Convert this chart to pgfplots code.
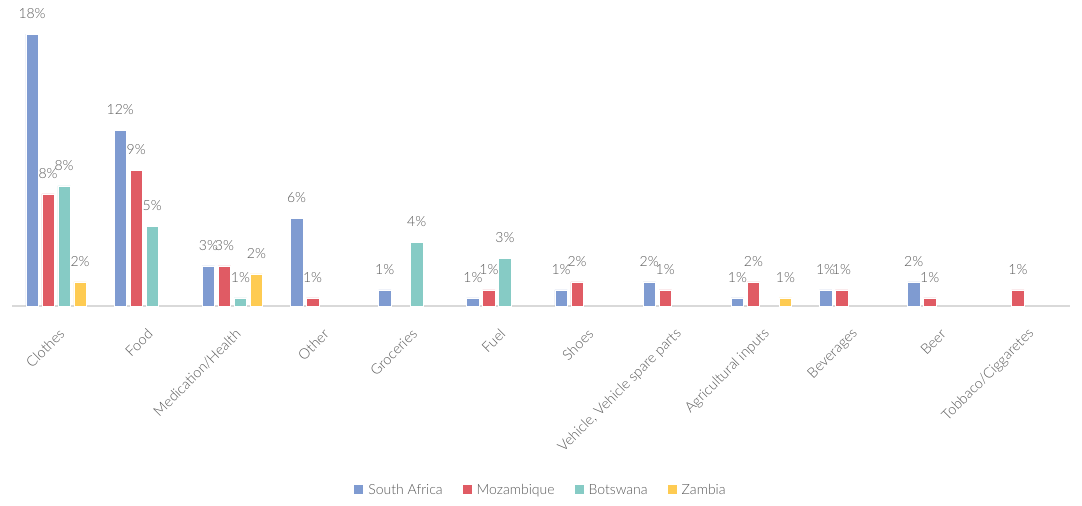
\documentclass[border=0pt]{standalone}
\usepackage{pgfplots}
\pgfplotsset{compat=1.18}
\usepackage{fontspec}
\IfFontExistsTF{Lato Light}{\setmainfont{Lato Light}}{\setmainfont{Lato}}
\definecolor{sa}{HTML}{7F9BD1}
\definecolor{mz}{HTML}{E05B64}
\definecolor{bw}{HTML}{86CBC5}
\definecolor{zm}{HTML}{FECB52}
\definecolor{txt}{HTML}{595959}
\definecolor{axgray}{HTML}{D9D9D9}
\begin{document}
\begin{tikzpicture}
\begin{axis}[name=ax, scale only axis, width=1058pt, height=296pt,
  xmin=-0.5, xmax=11.5, ymin=0, ymax=19.58,
  ybar=3.5pt, bar width=12.5pt,
  axis x line=bottom, axis y line=none,
  axis line style={draw=axgray, line width=1.5pt, -},
  xtick={0,...,11},
  xticklabels={Clothes,Food,Medication/Health,Other,Groceries,Fuel,Shoes,{Vehicle, Vehicle spare parts},Agricultural inputs,Beverages,Beer,Tobbaco/Ciggaretes},
  major tick length=0pt,
  x tick label style={rotate=45, anchor=east, font=\fontsize{14.3}{16}\selectfont, text=txt, xshift=-10.6pt, yshift=-22.2pt},
  nodes near coords, point meta=explicit symbolic,
  nodes near coords style={font=\fontsize{14}{16}\selectfont, text=txt, anchor=south, yshift=12pt},
  legend style={at={(0.5,0)}, anchor=center, yshift=-184pt, draw=none, legend columns=4,
    font=\fontsize{14}{16}\selectfont, text=txt,
    /tikz/every odd column/.append style={column sep=3pt},
    /tikz/every even column/.append style={column sep=18pt}},
  legend image code/.code={\fill[#1,draw=none] (0pt,-4pt) rectangle (9pt,5pt);},
  every axis plot/.append style={draw=white, line width=0.4pt},
]
\addplot[fill=sa] coordinates {(0,17.99)[18\%] (1,11.64)[12\%] (2,2.65)[3\%] (3,5.82)[6\%] (4,1.06)[1\%] (5,0.53)[1\%] (6,1.06)[1\%] (7,1.59)[2\%] (8,0.53)[1\%] (9,1.06)[1\%] (10,1.59)[2\%]};
\addplot[fill=mz] coordinates {(0,7.41)[8\%] (1,8.99)[9\%] (2,2.65)[3\%] (3,0.53)[1\%] (5,1.06)[1\%] (6,1.59)[2\%] (7,1.06)[1\%] (8,1.59)[2\%] (9,1.06)[1\%] (10,0.53)[1\%] (11,1.06)[1\%]};
\addplot[fill=bw] coordinates {(0,7.94)[8\%] (1,5.29)[5\%] (2,0.53)[1\%] (4,4.23)[4\%] (5,3.17)[3\%]};
\addplot[fill=zm] coordinates {(0,1.59)[2\%] (2,2.12)[2\%] (8,0.53)[1\%]};
\legend{South Africa,Mozambique,Botswana,Zambia}
\end{axis}
\path[use as bounding box] ([shift={(-12pt,-199pt)}]ax.south west) rectangle ([shift={(12pt,10pt)}]ax.north east);
\end{tikzpicture}
\end{document}
